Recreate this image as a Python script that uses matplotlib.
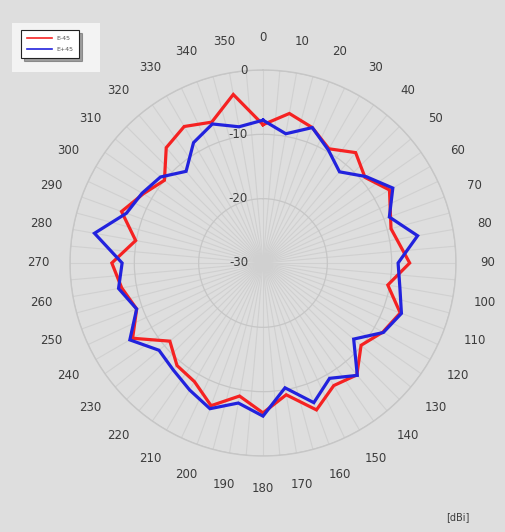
import numpy as np
import matplotlib
matplotlib.use("Agg")
import matplotlib.pyplot as plt
from matplotlib.lines import Line2D
from matplotlib.patches import Rectangle

# angles in degrees (0 = top, clockwise), gain in dBi
red_angles = [0, 10, 20, 30, 40, 50, 60, 75, 90, 100, 110, 120, 130, 140, 150, 160, 170,
              180, 190, 200, 210, 220, 230, 240, 250, 260, 270, 280, 290, 300, 310, 320,
              330, 340, 350]
red_vals = [-8.5, -6.4, -7.6, -9.5, -7.6, -9.3, -7.3, -9.4, -7.2, -10.3, -7.3, -8.5, -10.1,
            -7.3, -8.0, -5.7, -9.2, -6.7, -9.0, -6.4, -8.7, -9.2, -11.1, -6.6, -9.1, -7.7,
            -6.5, -9.9, -6.6, -8.5, -10.0, -6.6, -5.5, -6.7, -3.4]

blue_angles = list(range(0, 360, 10))
blue_vals = [-7.8, -9.6, -7.6, -9.7, -11.5, -9.1, -6.7, -9.1, -5.6, -9.0, -8.4, -7.1, -8.4,
             -11.6, -7.2, -9.3, -6.9, -10.3, -6.2, -7.9, -5.9, -7.2, -8.3, -8.9, -6.1, -9.1,
             -7.2, -8.1, -3.4, -7.4, -8.3, -9.2, -11.4, -8.4, -7.0, -8.5]

angle_labels = list(range(0, 360, 10))
r_ticks = [-30, -20, -10, 0]

bg = '#dedede'
grid_c = '#c6c6c6'
spoke_c = '#d0d0d0'
txt_c = '#3c3c3c'

fig = plt.figure(figsize=(5.06, 5.32), dpi=100, facecolor=bg)
ax = fig.add_axes([70 / 506, 76 / 532, 386 / 506, 386 / 532], projection='polar')
ax.set_facecolor(bg)
ax.set_theta_zero_location('N')
ax.set_theta_direction(-1)
ax.set_ylim(-30, 0)

ax.set_xticks(np.deg2rad(np.arange(0, 360, 5)))
ax.set_xticklabels([])
ax.set_yticks(r_ticks)
ax.set_yticklabels([])
ax.xaxis.grid(True, color=spoke_c, lw=0.8)
ax.yaxis.grid(True, color=grid_c, lw=0.9)
ax.spines['polar'].set_color(grid_c)
ax.spines['polar'].set_linewidth(1.0)
ax.tick_params(length=0)

for a in angle_labels:
    ax.text(np.deg2rad(a), 5.0, str(a), ha='center', va='center', fontsize=8.5,
            color=txt_c, clip_on=False)

for r in r_ticks:
    ax.annotate(str(r), xy=(0, r), xytext=(-15, 0), textcoords='offset pixels',
                ha='right', va='center', fontsize=8.5, color=txt_c, annotation_clip=False)

def closed(angles, vals):
    t = np.deg2rad(list(angles) + [angles[0]])
    v = list(vals) + [vals[0]]
    return t, v

t, v = closed(red_angles, red_vals)
ax.plot(t, v, color='#f52222', lw=2.3, solid_joinstyle='miter')
t, v = closed(blue_angles, blue_vals)
ax.plot(t, v, color='#2222dd', lw=2.3, solid_joinstyle='miter')

# white area behind the legend
fig.patches.append(Rectangle((12 / 506, 1 - 72 / 532), 88 / 506, 49 / 532,
                             transform=fig.transFigure, facecolor='#f3f3f3',
                             edgecolor='none', zorder=0))
handles = [Line2D([], [], color='#f52222', lw=1.2), Line2D([], [], color='#2222dd', lw=1.2)]
leg = fig.legend(handles, ['E-45', 'E+45'], loc='upper left',
                 bbox_to_anchor=(18 / 506, 1 - 27 / 532), fontsize=4.5, frameon=True,
                 fancybox=False, shadow=True, edgecolor='#222222', facecolor='white',
                 handlelength=4, borderpad=0.9, labelspacing=0.9)
leg.get_frame().set_linewidth(0.8)
for tx in leg.get_texts():
    tx.set_color('#555555')

fig.text(458 / 506, 1 - 517 / 532, '[dBi]', ha='center', va='center', fontsize=7,
         color=txt_c)

fig.savefig('out.png', dpi=100, facecolor=bg)
plt.close(fig)
